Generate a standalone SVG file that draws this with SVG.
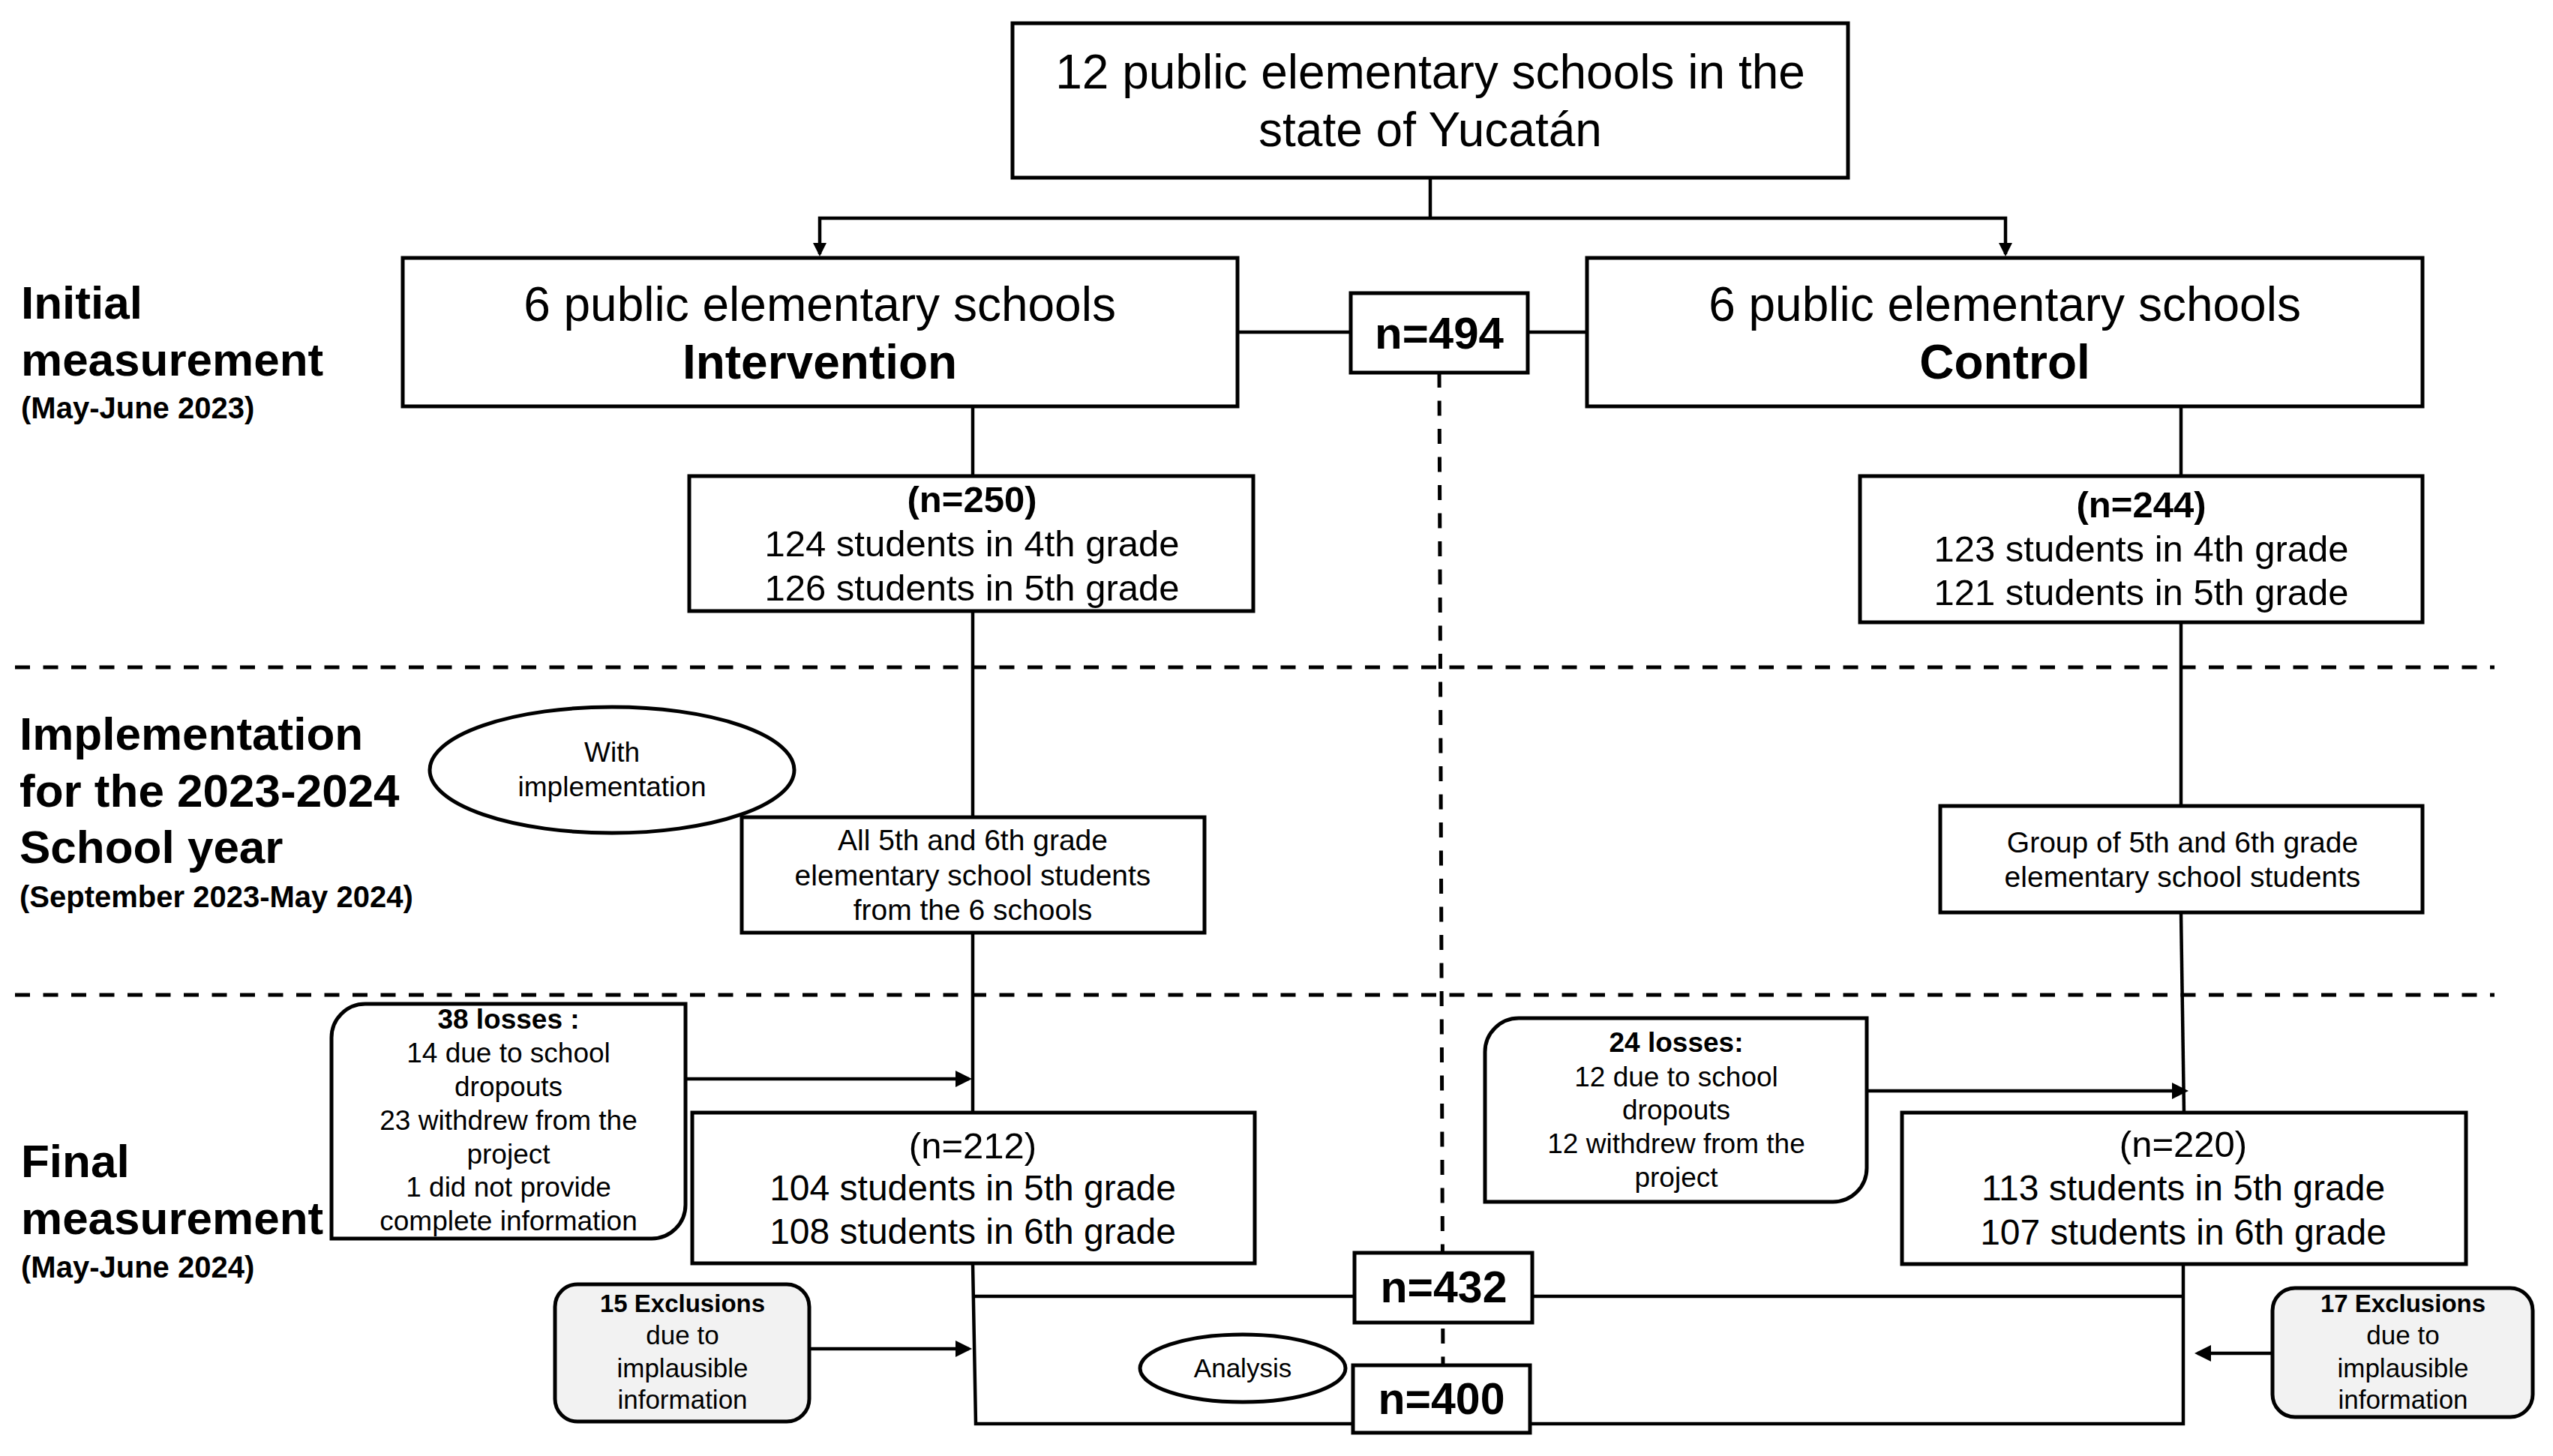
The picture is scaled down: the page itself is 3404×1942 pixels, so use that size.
<svg xmlns="http://www.w3.org/2000/svg" width="3404" height="1942" viewBox="0 0 3404 1942">
<style>
.box{fill:#fff;stroke:#000;stroke-width:5}
.exc{fill:#f2f2f2;stroke:#000;stroke-width:5}
.ln{fill:none;stroke:#000;stroke-width:4.5}
.dash{fill:none;stroke:#000;stroke-width:5;stroke-dasharray:20 17.5}
.t{font-family:"Liberation Sans",Arial,sans-serif;fill:#000;text-anchor:middle}
.b{font-weight:bold}
.lab{font-family:"Liberation Sans",Arial,sans-serif;font-weight:bold;fill:#000;font-size:62px}
.sub{font-family:"Liberation Sans",Arial,sans-serif;font-weight:bold;fill:#000;font-size:40px}
</style>
<defs>
<marker id="arr" markerUnits="userSpaceOnUse" viewBox="0 0 22 22" markerWidth="22" markerHeight="22" refX="18" refY="11" orient="auto"><path d="M0,0 L22,11 L0,22 Z" fill="#000"/></marker>
<marker id="arrS" markerUnits="userSpaceOnUse" viewBox="0 0 18 18" markerWidth="18" markerHeight="18" refX="15" refY="9" orient="auto"><path d="M0,0 L18,9 L0,18 Z" fill="#000"/></marker>
</defs>
<rect width="3404" height="1942" fill="#fff"/>

<g id="phase-labels">
<text class="lab" x="28" y="425">Initial</text>
<text class="lab" x="28" y="501">measurement</text>
<text class="sub" x="28" y="558">(May-June 2023)</text>
<text class="lab" x="26" y="1000">Implementation</text>
<text class="lab" x="26" y="1076">for the 2023-2024</text>
<text class="lab" x="26" y="1151">School year</text>
<text class="sub" x="26" y="1210">(September 2023-May 2024)</text>
<text class="lab" x="28" y="1570">Final</text>
<text class="lab" x="28" y="1646">measurement</text>
<text class="sub" x="28" y="1704">(May-June 2024)</text>
</g>

<g id="separators">
<path class="dash" d="M20,890 L3326,890"/>
<path class="dash" d="M20,1327 L3326,1327"/>
<path class="dash" d="M1919,497 L1924,1822"/>
</g>

<g id="connectors">
<path class="ln" d="M1907,237 L1907,291"/>
<path class="ln" d="M1907,291 L1093,291 L1093,339" marker-end="url(#arrS)"/>
<path class="ln" d="M1907,291 L2674,291 L2674,339" marker-end="url(#arrS)"/>
<path class="ln" d="M1650,443 L1801,443"/>
<path class="ln" d="M2037,443 L2116,443"/>
<path class="ln" d="M1297,542 L1297,635"/>
<path class="ln" d="M1297,815 L1297,1090"/>
<path class="ln" d="M1297,1244 L1297,1484"/>
<path class="ln" d="M1297,1685 L1301,1899 L1804,1899"/>
<path class="ln" d="M1297,1729 L1806,1729"/>
<path class="ln" d="M2043,1729 L2910,1729"/>
<path class="ln" d="M2040,1899 L2911,1899 L2911,1686"/>
<path class="ln" d="M2908,542 L2908,635"/>
<path class="ln" d="M2908,830 L2908,1075"/>
<path class="ln" d="M2908,1217 L2912,1484"/>
<path class="ln" d="M914,1439 L1292,1439" marker-end="url(#arr)"/>
<path class="ln" d="M2489,1455 L2914,1455" marker-end="url(#arr)"/>
<path class="ln" d="M1079,1799 L1292,1799" marker-end="url(#arr)"/>
<path class="ln" d="M3030,1805 L2930,1805" marker-end="url(#arr)"/>
</g>

<g id="top">
<rect class="box" x="1350" y="31" width="1114" height="206"/>
<text class="t" x="1907" y="118" font-size="64">12 public elementary schools in the</text>
<text class="t" x="1907" y="195" font-size="64">state of Yucatán</text>
</g>

<g id="intervention">
<rect class="box" x="537" y="344" width="1113" height="198"/>
<text class="t" x="1093" y="428" font-size="64">6 public elementary schools</text>
<text class="t b" x="1093" y="505" font-size="64">Intervention</text>
</g>

<g id="n494">
<rect class="box" x="1801" y="391" width="236" height="106"/>
<text class="t b" x="1919" y="465" font-size="60">n=494</text>
</g>

<g id="control">
<rect class="box" x="2116" y="344" width="1114" height="198"/>
<text class="t" x="2673" y="428" font-size="64">6 public elementary schools</text>
<text class="t b" x="2673" y="505" font-size="64">Control</text>
</g>

<g id="int-initial">
<rect class="box" x="919" y="635" width="752" height="180"/>
<text class="t b" x="1296" y="683" font-size="49">(n=250)</text>
<text class="t" x="1296" y="742" font-size="49">124 students in 4th grade</text>
<text class="t" x="1296" y="801" font-size="49">126 students in 5th grade</text>
</g>

<g id="ctl-initial">
<rect class="box" x="2480" y="635" width="750" height="195"/>
<text class="t b" x="2855" y="690" font-size="49">(n=244)</text>
<text class="t" x="2855" y="749" font-size="49">123 students in 4th grade</text>
<text class="t" x="2855" y="807" font-size="49">121 students in 5th grade</text>
</g>

<g id="with-implementation">
<ellipse class="box" cx="816" cy="1027" rx="243" ry="84"/>
<text class="t" x="816" y="1016" font-size="37">With</text>
<text class="t" x="816" y="1062" font-size="37">implementation</text>
</g>

<g id="int-implementation">
<rect class="box" x="989" y="1090" width="617" height="154"/>
<text class="t" x="1297" y="1134" font-size="39">All 5th and 6th grade</text>
<text class="t" x="1297" y="1181" font-size="39">elementary school students</text>
<text class="t" x="1297" y="1227" font-size="39">from the 6 schools</text>
</g>

<g id="ctl-implementation">
<rect class="box" x="2587" y="1075" width="643" height="142"/>
<text class="t" x="2910" y="1137" font-size="39">Group of 5th and 6th grade</text>
<text class="t" x="2910" y="1183" font-size="39">elementary school students</text>
</g>

<g id="losses-38">
<path class="box" d="M487,1339 L914,1339 L914,1607 A45,45 0 0 1 869,1652 L442,1652 L442,1384 A45,45 0 0 1 487,1339 Z"/>
<text class="t b" x="678" y="1372" font-size="37">38 losses :</text>
<text class="t" x="678" y="1417" font-size="37">14 due to school</text>
<text class="t" x="678" y="1462" font-size="37">dropouts</text>
<text class="t" x="678" y="1507" font-size="37">23 withdrew from the</text>
<text class="t" x="678" y="1552" font-size="37">project</text>
<text class="t" x="678" y="1596" font-size="37">1 did not provide</text>
<text class="t" x="678" y="1641" font-size="37">complete information</text>
</g>

<g id="losses-24">
<path class="box" d="M2025,1358 L2489,1358 L2489,1558 A45,45 0 0 1 2444,1603 L1980,1603 L1980,1403 A45,45 0 0 1 2025,1358 Z"/>
<text class="t b" x="2235" y="1403" font-size="37">24 losses:</text>
<text class="t" x="2235" y="1449" font-size="37">12 due to school</text>
<text class="t" x="2235" y="1493" font-size="37">dropouts</text>
<text class="t" x="2235" y="1538" font-size="37">12 withdrew from the</text>
<text class="t" x="2235" y="1583" font-size="37">project</text>
</g>

<g id="int-final">
<rect class="box" x="923" y="1484" width="750" height="201"/>
<text class="t" x="1297" y="1545" font-size="49">(n=212)</text>
<text class="t" x="1297" y="1601" font-size="48">104 students in 5th grade</text>
<text class="t" x="1297" y="1659" font-size="48">108 students in 6th grade</text>
</g>

<g id="ctl-final">
<rect class="box" x="2536" y="1484" width="752" height="202"/>
<text class="t" x="2911" y="1543" font-size="49">(n=220)</text>
<text class="t" x="2911" y="1601" font-size="48">113 students in 5th grade</text>
<text class="t" x="2911" y="1660" font-size="48">107 students in 6th grade</text>
</g>

<g id="n432">
<rect class="box" x="1806" y="1671" width="237" height="93"/>
<text class="t b" x="1925" y="1737" font-size="59">n=432</text>
</g>

<g id="n400">
<rect class="box" x="1804" y="1821" width="236" height="90"/>
<text class="t b" x="1922" y="1886" font-size="59">n=400</text>
</g>

<g id="analysis">
<ellipse class="box" cx="1657" cy="1825" rx="137" ry="45"/>
<text class="t" x="1657" y="1837" font-size="35">Analysis</text>
</g>

<g id="exclusions-15">
<rect class="exc" x="740" y="1713" width="339" height="183" rx="30" ry="30"/>
<text class="t b" x="910" y="1750" font-size="33">15 Exclusions</text>
<text class="t" x="910" y="1793" font-size="35">due to</text>
<text class="t" x="910" y="1837" font-size="35">implausible</text>
<text class="t" x="910" y="1879" font-size="35">information</text>
</g>

<g id="exclusions-17">
<rect class="exc" x="3030" y="1718" width="347" height="172" rx="30" ry="30"/>
<text class="t b" x="3204" y="1750" font-size="33">17 Exclusions</text>
<text class="t" x="3204" y="1793" font-size="35">due to</text>
<text class="t" x="3204" y="1837" font-size="35">implausible</text>
<text class="t" x="3204" y="1879" font-size="35">information</text>
</g>
</svg>
